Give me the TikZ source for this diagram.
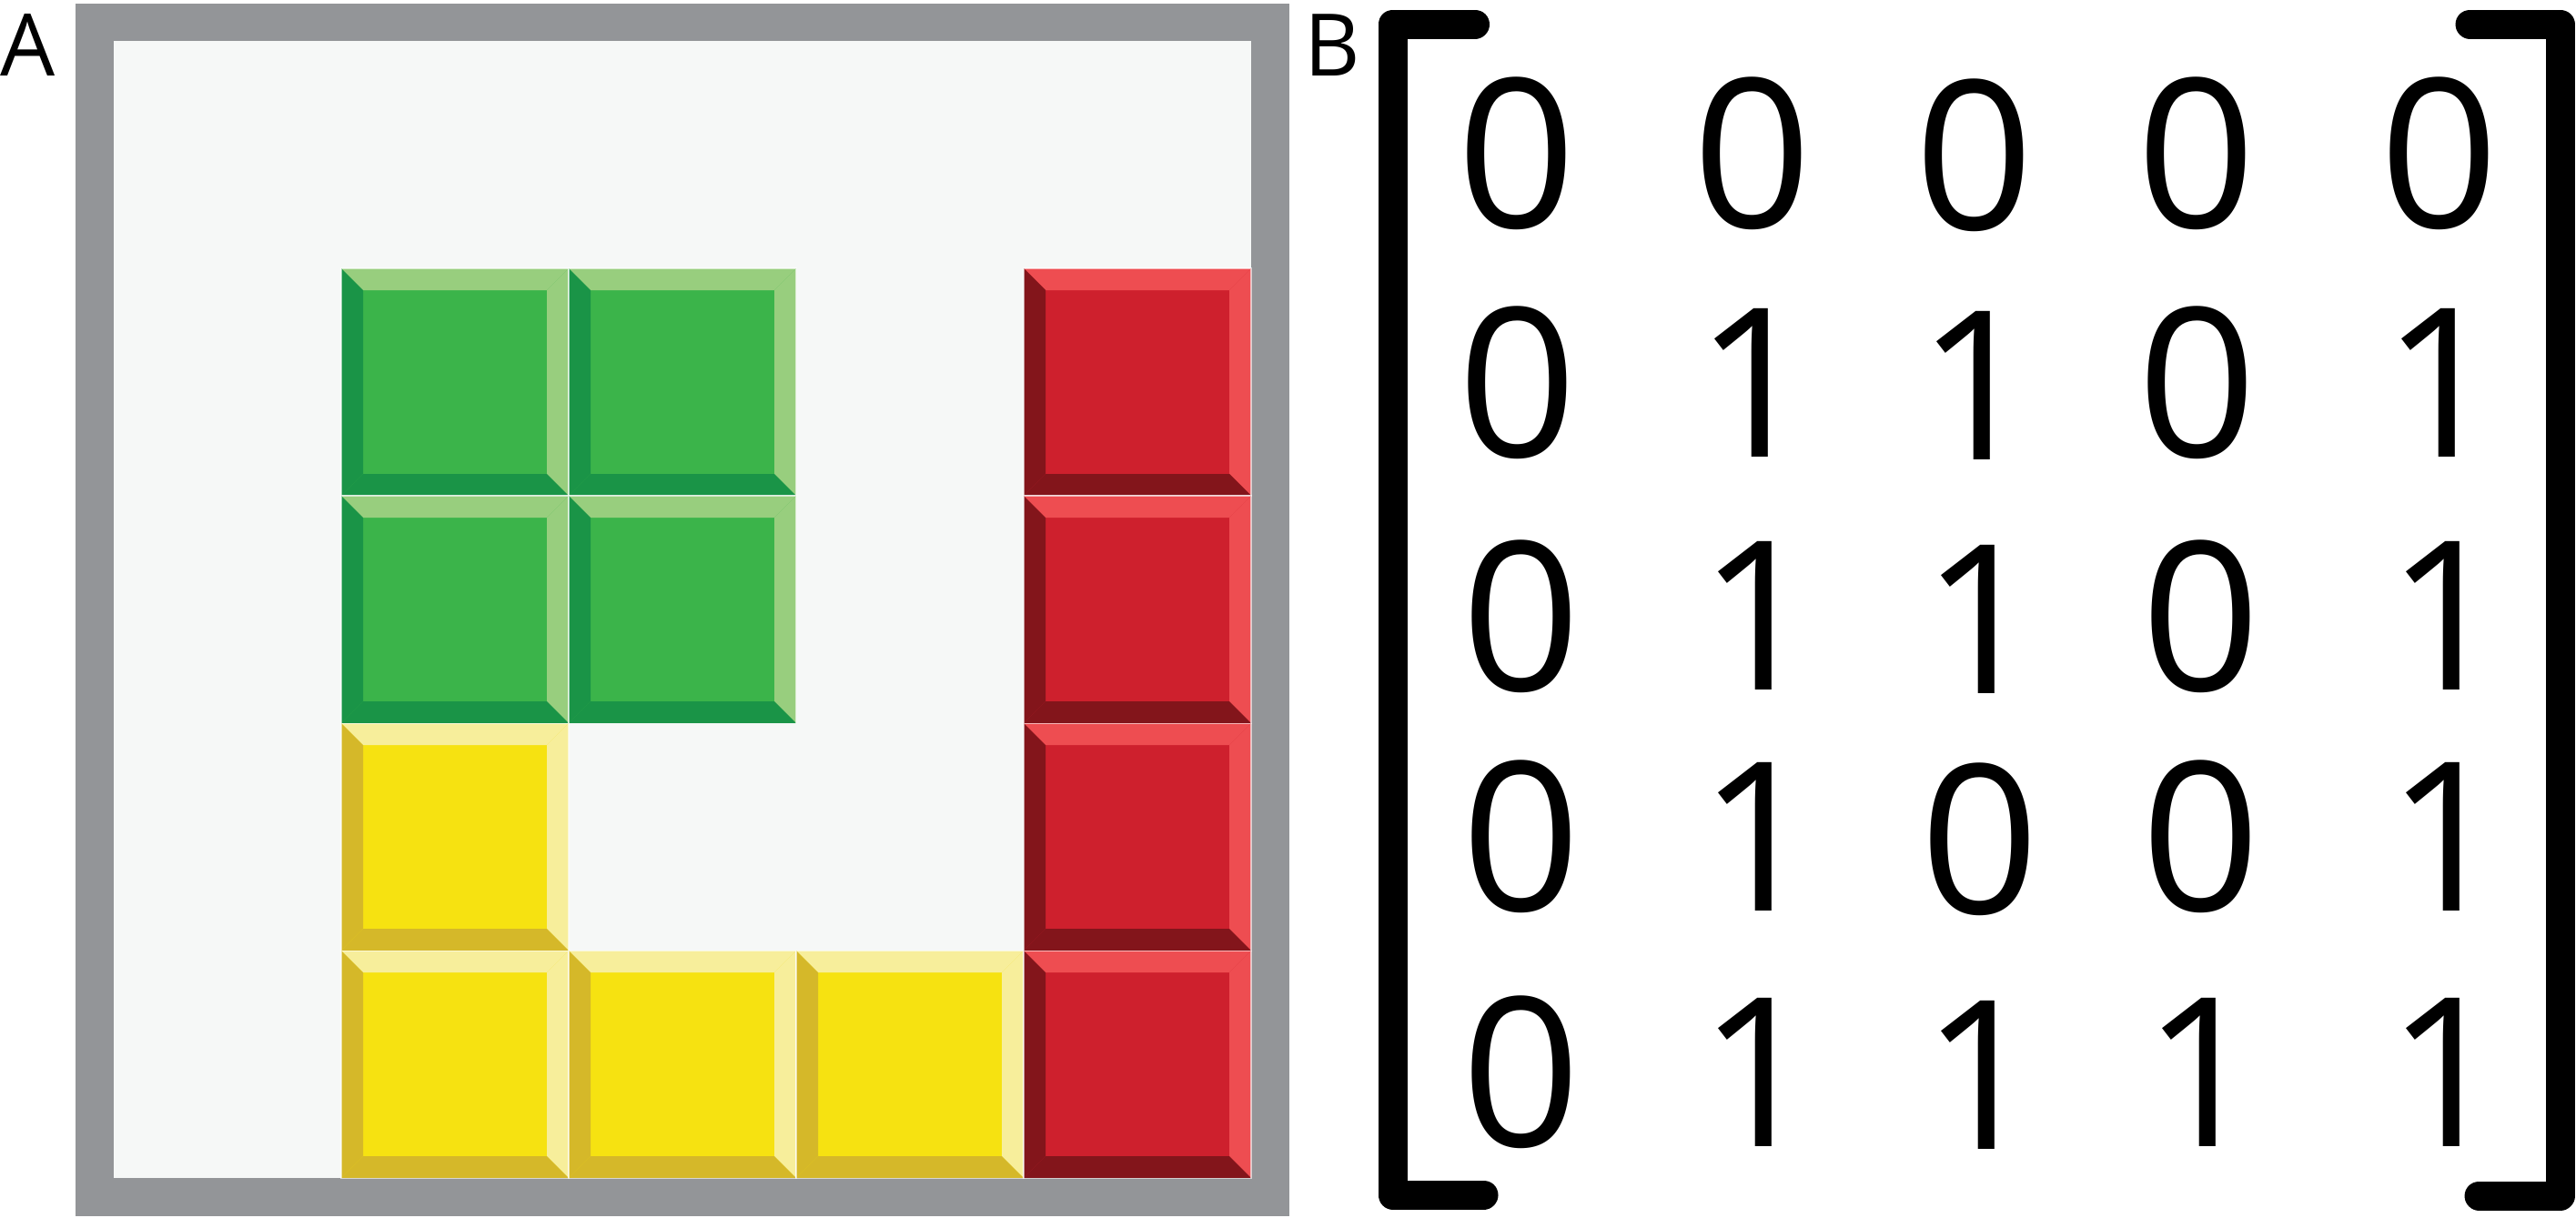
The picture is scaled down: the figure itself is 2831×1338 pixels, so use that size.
\documentclass[tikz,border=0pt]{standalone}
\usepackage{fontspec}
\setmainfont{Open Sans}
\definecolor{framegray}{HTML}{939598}
\definecolor{innerbg}{HTML}{F6F8F7}
\definecolor{gMain}{HTML}{3BB44A}
\definecolor{gDark}{HTML}{1A9447}
\definecolor{gLight}{HTML}{98CE7E}
\definecolor{rMain}{HTML}{CE202D}
\definecolor{rDark}{HTML}{83151B}
\definecolor{rLight}{HTML}{EE4D51}
\definecolor{yMain}{HTML}{F6E211}
\definecolor{yDark}{HTML}{D5B829}
\definecolor{yLight}{HTML}{F7EE9B}
\newcommand\tileblock[5]{%
  \begin{scope}[shift={(125+250*#1,45+250*#2)}]
    \fill[#3] (0,0) rectangle (250,250);
    \fill[#5] (0,0) -- (250,0) -- (226,24) -- (24,24) -- cycle;
    \fill[#5] (250,0) -- (250,250) -- (226,226) -- (226,24) -- cycle;
    \fill[#4] (0,0) -- (24,24) -- (24,226) -- (0,250) -- cycle;
    \fill[#4] (0,250) -- (24,226) -- (226,226) -- (250,250) -- cycle;
    \draw[white, opacity=0.6, line width=0.3pt] (0,0) rectangle (250,250);
  \end{scope}}
\tikzset{
  digit/.style={font=\fontsize{65pt}{65pt}\selectfont, inner sep=0pt, anchor=base},
  onedigit/.style={digit, xshift=0.13cm},
  panellabel/.style={font=\fontsize{27pt}{27pt}\selectfont, inner sep=0pt, anchor=base},
  bracketline/.style={line width=9.1pt, line cap=round, line join=round, black}
}
\begin{document}
\begin{tikzpicture}[x=0.01cm,y=-0.01cm]
\useasboundingbox (0,0) rectangle (2831,1338);
\fill[white] (0,0) rectangle (2831,1338);
% frame
\fill[framegray] (83,4) rectangle (1417,1337);
\fill[innerbg] (125,45) rectangle (1375,1295);
% green square
\tileblock{1}{1}{gMain}{gDark}{gLight}
\tileblock{2}{1}{gMain}{gDark}{gLight}
\tileblock{1}{2}{gMain}{gDark}{gLight}
\tileblock{2}{2}{gMain}{gDark}{gLight}
% yellow L
\tileblock{1}{3}{yMain}{yDark}{yLight}
\tileblock{1}{4}{yMain}{yDark}{yLight}
\tileblock{2}{4}{yMain}{yDark}{yLight}
\tileblock{3}{4}{yMain}{yDark}{yLight}
% red I
\tileblock{4}{1}{rMain}{rDark}{rLight}
\tileblock{4}{2}{rMain}{rDark}{rLight}
\tileblock{4}{3}{rMain}{rDark}{rLight}
\tileblock{4}{4}{rMain}{rDark}{rLight}
% labels
\node[panellabel] (labA) at (31,83) {A};
\node[panellabel] (labB) at (1464,83) {B};
% brackets
\draw[bracketline] (1621,26.5) -- (1530.5,26.5) -- (1530.5,1313.5) -- (1630.5,1313.5);
\draw[bracketline] (2714.5,26.5) -- (2813.5,26.5) -- (2813.5,1314.5) -- (2724.5,1314.5);
% matrix row 0
\node[digit] (d00) at (1667,250) {0};
\node[digit] (d01) at (1925.5,250) {0};
\node[digit] (d02) at (2170,252) {0};
\node[digit] (d03) at (2414,250) {0};
\node[digit] (d04) at (2681,250) {0};
% row 1
\node[digit] (d10) at (1667.5,502) {0};
\node[onedigit] (d11) at (1915.5,502) {1};
\node[onedigit] (d12) at (2160,505) {1};
\node[digit] (d13) at (2415,502) {0};
\node[onedigit] (d14) at (2671,502) {1};
% row 2
\node[digit] (d20) at (1672,759) {0};
\node[onedigit] (d21) at (1919.5,758) {1};
\node[onedigit] (d22) at (2164.5,762) {1};
\node[digit] (d23) at (2419,759) {0};
\node[onedigit] (d24) at (2675.5,758) {1};
% row 3
\node[digit] (d30) at (1672,1001) {0};
\node[onedigit] (d31) at (1919.5,1001) {1};
\node[digit] (d32) at (2176,1004) {0};
\node[digit] (d33) at (2419,1001) {0};
\node[onedigit] (d34) at (2675.5,1001) {1};
% row 4
\node[digit] (d40) at (1672,1260) {0};
\node[onedigit] (d41) at (1919.5,1260) {1};
\node[onedigit] (d42) at (2164.5,1263) {1};
\node[onedigit] (d43) at (2408,1260) {1};
\node[onedigit] (d44) at (2675.5,1260) {1};
\end{tikzpicture}
\end{document}
